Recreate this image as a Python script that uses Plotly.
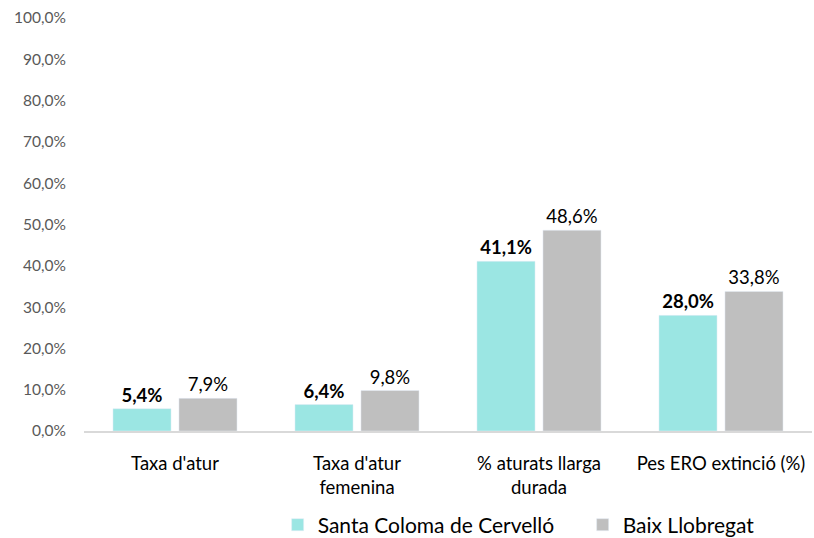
import plotly.graph_objects as go

categories = ["Taxa d'atur", "Taxa d'atur<br>femenina", "% aturats llarga<br>durada", "Pes ERO extinció (%)"]
santa_coloma = [5.4, 6.4, 41.1, 28.0]
baix_llobregat = [7.9, 9.8, 48.6, 33.8]
tick_values = [0, 10, 20, 30, 40, 50, 60, 70, 80, 90, 100]

def fmt(v):
    return f"{v:.1f}".replace(".", ",") + "%"

FONT = "Lato, 'Open Sans', sans-serif"

fig = go.Figure()
fig.add_trace(go.Bar(
    x=categories, y=santa_coloma, name="Santa Coloma de Cervelló",
    marker_color="#9BE6E3",
    text=["<b>" + fmt(v) + "</b>" for v in santa_coloma],
    textposition="outside", textfont=dict(size=18.5, color="#000000", family=FONT),
    cliponaxis=False,
))
fig.add_trace(go.Bar(
    x=categories, y=baix_llobregat, name="Baix Llobregat",
    marker_color="#BFBFBF",
    text=[fmt(v) for v in baix_llobregat],
    textposition="outside", textfont=dict(size=18.5, color="#000000", family=FONT),
    cliponaxis=False,
))

fig.update_layout(
    width=814, height=538,
    margin=dict(l=84, r=2, t=18, b=107, autoexpand=False),
    plot_bgcolor="white", paper_bgcolor="white",
    font=dict(family=FONT, color="#000000"),
    barmode="group", bargap=0.275, bargroupgap=0.12,
    showlegend=True,
    legend=dict(orientation="h", x=0.266, xanchor="left", y=-0.178, yanchor="top",
                font=dict(size=21, color="#000000"), itemwidth=30,
                entrywidth=260, traceorder="normal"),
)
fig.update_yaxes(
    range=[0, 100], tickvals=tick_values, ticktext=[fmt(v) for v in tick_values],
    showgrid=False, zeroline=False, showline=False, automargin=False,
    tickfont=dict(size=15.5, color="#595959"), ticks="", ticklabelstandoff=17,
)
fig.update_xaxes(
    showline=True, linecolor="#D9D9D9", linewidth=1.5, automargin=False,
    tickfont=dict(size=18.5, color="#000000"), ticks="", ticklabelstandoff=15,
)
fig.write_html("out.html", config={"displayModeBar": False},
               post_script="document.body.style.margin='0';document.body.style.overflow='hidden';")
